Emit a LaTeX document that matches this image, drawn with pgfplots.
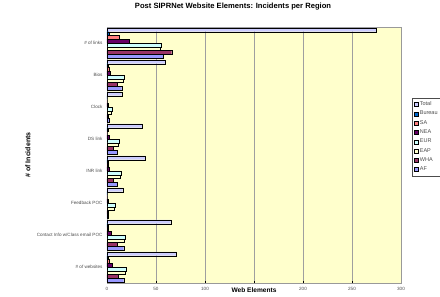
\documentclass[border=0pt]{standalone}
\usepackage{pgfplots}
\usepackage{pgfplotstable}
\pgfplotsset{compat=1.18}
\usepackage{fontspec}
\setmainfont{Liberation Sans}
\definecolor{cTotal}{HTML}{CCCCFF}
\definecolor{cBureau}{HTML}{0066CC}
\definecolor{cSA}{HTML}{FF8080}
\definecolor{cNEA}{HTML}{660066}
\definecolor{cEUR}{HTML}{CCFFFF}
\definecolor{cEAP}{HTML}{FFFFCC}
\definecolor{cWHA}{HTML}{993366}
\definecolor{cAF}{HTML}{9999FF}
\definecolor{plotbg}{HTML}{FFFFCC}
\pgfplotstableread{
y Total Bureau SA NEA EUR EAP WHA AF
1 275 2 12 23 55 54 66 57
2 59 1 2 3 17 16 10 15
3 15 0 0 1 5 4 1 2
4 36 1 0 2 12 11 6 10
5 39 1 1 2 14 13 6 10
6 16 0 0 1 8 7 1 1
7 65 1 1 4 19 18 10 17
8 71 1 2 5 20 19 11 17
}\data
\begin{document}
\begin{tikzpicture}
\useasboundingbox (0pt,0pt) rectangle (440pt,-297pt);
\begin{axis}[
  at={(107pt,-283pt)}, anchor=south west,
  scale only axis, width=294pt, height=256pt,
  xmin=0, xmax=300, ymin=0.5, ymax=8.5,
  y dir=reverse,
  axis background/.style={fill=plotbg},
  axis line style={draw=gray!80, line width=0.6pt},
  xtick={0,50,100,150,200,250,300},
  xticklabels={0,50,100,,200,250,300},
  xmajorgrids, grid style={draw=gray!75, line width=0.6pt},
  ytick={1,...,8},
  yticklabels={\# of links,Bios,Clock,DS link,INR link,Feedback POC,Contact Info w/Class email POC,\# of websites},
  ytick style={draw=none},
  minor ytick={1.5,2.5,...,7.5},
  minor tick length=2pt,
  minor tick style={draw=black},
  xtick style={draw=black},
  major tick length=2pt,
  tick label style={font=\fontsize{4.6}{5}\selectfont, text=black!70},
  /pgf/number format/assume math mode=true,
  yticklabel style={xshift=-1pt},
  xticklabel style={yshift=-1pt},
  title={Post SIPRNet Website Elements: Incidents per Region},
  title style={font=\bfseries\fontsize{7.6}{8}\selectfont, at={(axis description cs:0.4286,1)}, anchor=center, yshift=14pt},
  xlabel={Web Elements},
  xlabel style={font=\bfseries\fontsize{6.6}{7}\selectfont, at={(axis description cs:0.5,0)}, anchor=center, yshift=-7pt},
  ylabel={\# of Incidents},
  ylabel style={font=\bfseries\fontsize{7}{8}\selectfont, at={(axis description cs:-0.269,0.5)}, anchor=center, rotate=0},
  legend style={at={(axis description cs:1.037,0.7227)}, anchor=north west,
    font=\fontsize{5.5}{9.9}\selectfont, draw=black!70, fill=white,
    inner sep=1.5pt, row sep=0pt, cells={anchor=west}, text=black!70},
  legend image code/.code={\draw[#1, draw=black, line width=0.3pt] (0pt,-2pt) rectangle (4pt,2pt);},
  every axis plot/.append style={xbar, bar width=0.1176, draw=black, line width=0.3pt},
]
\addplot[fill=cTotal, bar shift=-0.4118] table[x=Total, y=y] {\data};
\addplot[fill=cBureau, bar shift=-0.2941] table[x=Bureau, y=y] {\data};
\addplot[fill=cSA, bar shift=-0.1765] table[x=SA, y=y] {\data};
\addplot[fill=cNEA, bar shift=-0.0588] table[x=NEA, y=y] {\data};
\addplot[fill=cEUR, bar shift=0.0588] table[x=EUR, y=y] {\data};
\addplot[fill=cEAP, bar shift=0.1765] table[x=EAP, y=y] {\data};
\addplot[fill=cWHA, bar shift=0.2941] table[x=WHA, y=y] {\data};
\addplot[fill=cAF, bar shift=0.4118] table[x=AF, y=y] {\data};
\legend{Total,Bureau,SA,NEA,EUR,EAP,WHA,AF}
\end{axis}
\end{tikzpicture}
\end{document}
